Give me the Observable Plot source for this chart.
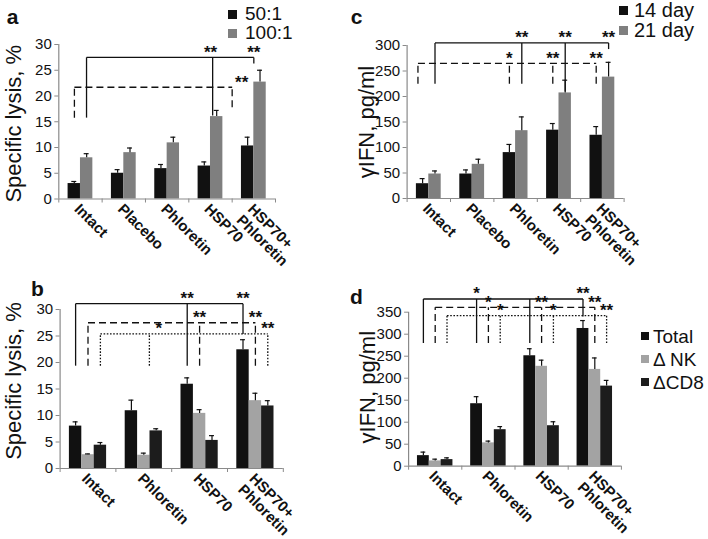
<!DOCTYPE html>
<html><head><meta charset="utf-8">
<script src="https://cdn.jsdelivr.net/npm/d3@7"></script>
<script src="https://cdn.jsdelivr.net/npm/@observablehq/plot@0.6"></script>
<style>
html,body{margin:0;padding:0;background:#fff;overflow:hidden;}
#root{position:relative;width:708px;height:539px;overflow:hidden;background:#fff;font-family:"Liberation Sans",Arial,Helvetica,sans-serif;color:#111;}
.lg{position:absolute;white-space:nowrap;}
.lg .sw{position:absolute;}
.lg .tx{position:absolute;}
</style></head>
<body><div id="root"></div>
<script>
const FONT = '"Liberation Sans", Arial, Helvetica, sans-serif';

// ---------- Panel a : Specific lysis, effector:target ratio ----------
const catsA = ["Intact", "Placebo", "Phloretin", "HSP70", "HSP70+\nPhloretin"];
const seriesA = ["50:1", "100:1"];
const colorsA = ["#111111", "#7f7f7f"];
const a50 = [3, 5, 5.9, 6.4, 10.3];
const a50err = [0.4, 0.7, 0.8, 0.8, 1.7];
const a100 = [8, 9, 10.9, 16, 22.7];
const a100err = [0.8, 0.9, 1.1, 1.2, 2.3];
const ticksA = [0, 5, 10, 15, 20, 25, 30];
const bracketsA = [
  {style: "solid", level: 27.5, drops: [{x: 0.64, y: 15.8}, {x: 3.55, y: 16.2, s: "**", sx: 3.5}, {x: 4.5, y: 26.3, s: "**"}]},
  {style: "dashed", level: 21.7, drops: [{x: 0.36, y: 15.8}, {x: 4.0, y: 17.8, s: "**", sx: 4.22}]}
];

// ---------- Panel c : γIFN, 14 / 21 day ----------
const catsC = ["Intact", "Placebo", "Phloretin", "HSP70", "HSP70+\nPhloretin"];
const seriesC = ["14 day", "21 day"];
const colorsC = ["#111111", "#7f7f7f"];
const c14 = [29, 48, 90, 134, 124];
const c14err = [10, 8, 16, 13, 17];
const c21 = [48, 67, 133, 207, 238];
const c21err = [6, 10, 27, 25, 29];
const ticksC = [0, 50, 100, 150, 200, 250, 300];
const bracketsC = [
  {style: "solid", level: 305, drops: [{x: 0.643, y: 225}, {x: 2.643, y: 225, s: "**"}, {x: 3.643, y: 210, s: "**"}, {x: 4.643, y: 293, s: "**"}]},
  {style: "dashed", level: 265, drops: [{x: 0.25, y: 225}, {x: 2.357, y: 225, s: "*"}, {x: 3.357, y: 225, s: "**"}, {x: 4.357, y: 225, s: "**"}]}
];

// ---------- Panel b : Specific lysis, depletion ----------
const catsB = ["Intact", "Phloretin", "HSP70", "HSP70+\nPhloretin"];
const seriesB = ["Total", "\u0394 NK", "\u0394CD8"];
const colorsB = ["#111111", "#a3a3a3", "#1c1c1c"];
const bTotal = [8, 10.9, 15.9, 22.4];
const bTotalErr = [0.8, 2.0, 1.2, 1.9];
const bNK = [2.6, 2.5, 10.4, 12.8];
const bNKErr = [0.15, 0.4, 0.7, 1.4];
const bCD8 = [4.4, 7.1, 5.3, 11.8];
const bCD8Err = [0.5, 0.4, 0.9, 1.0];
const ticksB = [0, 5, 10, 15, 20, 25, 30];
const bracketsB = [
  {style: "solid", level: 31.1, drops: [{x: 0.278, y: 19.4}, {x: 2.278, y: 19.4, s: "**"}, {x: 3.278, y: 25.4, s: "**"}]},
  {style: "dashed", level: 27.5, drops: [{x: 0.5, y: 19.4}, {x: 2.5, y: 19.4, s: "**"}, {x: 3.5, y: 19.4, s: "**"}]},
  {style: "dotted", level: 25.4, drops: [{x: 0.722, y: 19.4}, {x: 1.6, y: 19.4, s: "*", sx: 1.77}, {x: 3.722, y: 19.4, s: "**"}]}
];

// ---------- Panel d : γIFN, depletion ----------
const catsD = ["Intact", "Phloretin", "HSP70", "HSP70+\nPhloretin"];
const seriesD = ["Total", "\u0394 NK", "\u0394CD8"];
const colorsD = ["#111111", "#a3a3a3", "#1c1c1c"];
const dTotal = [24, 142, 251, 313];
const dTotalErr = [8, 16, 16, 18];
const dNK = [12, 53, 227, 220];
const dNKErr = [4, 4, 14, 26];
const dCD8 = [15, 83, 92, 182];
const dCD8Err = [4, 7, 9, 13];
const ticksD = [0, 50, 100, 150, 200, 250, 300, 350];
const bracketsD = [
  {style: "solid", level: 380, drops: [{x: 0.278, y: 280}, {x: 1.278, y: 280, s: "*"}, {x: 2.278, y: 280}, {x: 3.278, y: 340, s: "**"}]},
  {style: "dashed", level: 361, drops: [{x: 0.5, y: 280}, {x: 1.5, y: 280, s: "*"}, {x: 2.5, y: 280, s: "**"}, {x: 3.5, y: 280, s: "**"}]},
  {style: "dotted", level: 342, drops: [{x: 0.722, y: 280}, {x: 1.722, y: 280, s: "*"}, {x: 2.722, y: 280, s: "*"}, {x: 3.722, y: 280, s: "**"}]}
];

const W = 708, H = 539;
const root = document.getElementById("root");

function panel(cfg) {
  const [L, R, T, B] = cfg.frame;
  const n = cfg.cats.length, m = cfg.series.length;
  const bw = 1 / (m + 1.5);
  const rows = [];
  cfg.series.forEach((s, j) => cfg.values[j].forEach((v, i) => rows.push({
    i, j, s, v, e: cfg.errs[j][i],
    x1: i + (0.75 + j) * bw, x2: i + (1.75 + j) * bw, xc: i + (1.25 + j) * bw
  })));
  const segs = [], stars = [];
  cfg.brackets.forEach(b => {
    const xs = b.drops.map(d => d.x);
    segs.push({style: b.style, x1: d3.min(xs), x2: d3.max(xs), y1: b.level, y2: b.level});
    b.drops.forEach(d => {
      segs.push({style: b.style, x1: d.x, x2: d.x, y1: d.y, y2: b.level});
      if (d.s) stars.push({x: d.sx ?? d.x, y: b.level, t: d.s});
    });
  });
  const dash = {solid: null, dashed: "7,4", dotted: "1.6,1.6"};
  const ymax = cfg.ticks[cfg.ticks.length - 1];
  const axisColor = "#8a8a8a";
  const svg = Plot.plot({
    width: W, height: H,
    marginLeft: L, marginRight: W - R, marginTop: T, marginBottom: H - B,
    x: {domain: [0, n], axis: null},
    y: {domain: [0, ymax], axis: null},
    style: {fontFamily: FONT, background: "transparent", overflow: "visible", color: "#111"},
    marks: [
      Plot.rectY(rows, {x1: "x1", x2: "x2", y1: 0, y2: "v", fill: d => cfg.colors[d.j], inset: 0}),
      Plot.ruleX(rows, {x: "xc", y1: "v", y2: d => d.v + d.e, stroke: "#111", strokeWidth: 1.2}),
      Plot.ruleY(rows, {y: d => d.v + d.e, x1: d => d.xc - bw * 0.2, x2: d => d.xc + bw * 0.2, stroke: "#111", strokeWidth: 1.2}),
      Plot.ruleY([0], {x1: 0, x2: n, stroke: axisColor, strokeWidth: 1.2}),
      Plot.ruleX([0], {y1: 0, y2: ymax, stroke: axisColor, strokeWidth: 1.2}),
      Plot.axisY(cfg.ticks, {anchor: "left", tickSize: 4, tickPadding: 3, stroke: axisColor, fill: "#111", fontSize: 15, label: null}),
      Plot.axisX(d3.range(n + 1), {anchor: "bottom", tickSize: 4, stroke: axisColor, tickFormat: () => "", label: null}),
      Plot.text(cfg.cats, {x: (d, i) => i + 0.5, y: 0, text: d => d, rotate: 45, textAnchor: "start", lineAnchor: "top",
        dx: 1, dy: 3, fontWeight: "bold", fontSize: 15, lineHeight: 1.05, fill: "#111"}),
      ...["solid", "dashed", "dotted"].map(st => Plot.link(segs.filter(s => s.style === st),
        {x1: "x1", y1: "y1", x2: "x2", y2: "y2", stroke: "#111", strokeWidth: 1.3, strokeDasharray: dash[st]})),
      Plot.text(stars, {x: "x", y: "y", text: "t", dy: -5, fontWeight: "bold", fontSize: 17, fill: "#111"}),
      Plot.text([cfg.ylabel], {frameAnchor: "left", rotate: -90, textAnchor: "middle", lineAnchor: "middle",
        dx: cfg.ylab[0], dy: cfg.ylab[1], fontSize: cfg.ylabSize, fill: "#111"}),
      Plot.text([cfg.letter], {frameAnchor: "top-left", textAnchor: "middle", lineAnchor: "middle",
        dx: cfg.letterPos[0] - L, dy: cfg.letterPos[1] - T, fontSize: 21, fontWeight: "bold", fill: "#111"})
    ]
  });
  svg.style.position = "absolute";
  svg.style.left = "0px";
  svg.style.top = "0px";
  root.appendChild(svg);
}

function legend(series, colors, sx, tx, top, rowH, fs, sz) {
  const div = document.createElement("div");
  div.className = "lg";
  div.style.left = "0px"; div.style.top = "0px";
  series.forEach((s, i) => {
    const cy = top + rowH * i;
    const sw = document.createElement("div");
    sw.className = "sw";
    Object.assign(sw.style, {left: sx + "px", top: (cy - sz / 2) + "px", width: sz + "px", height: sz + "px", background: colors[i]});
    const t = document.createElement("div");
    t.className = "tx";
    t.textContent = s;
    const lh = Math.min(fs, rowH - 1);
    Object.assign(t.style, {left: tx + "px", top: (cy - lh / 2 + (fs - lh) * 0.0) + "px", fontSize: fs + "px", lineHeight: lh + "px"});
    div.appendChild(sw); div.appendChild(t);
  });
  root.appendChild(div);
}

panel({frame: [58.3, 275, 44, 198.5], cats: catsA, series: seriesA, colors: colorsA,
  values: [a50, a100], errs: [a50err, a100err], ticks: ticksA, brackets: bracketsA,
  ylabel: "Specific lysis, %", ylab: [-45, 2], ylabSize: 22, letter: "a", letterPos: [12, 17]});
panel({frame: [406.6, 623.6, 45, 198], cats: catsC, series: seriesC, colors: colorsC,
  values: [c14, c21], errs: [c14err, c21err], ticks: ticksC, brackets: bracketsC,
  ylabel: "\u03b3IFN, pg/ml", ylab: [-40, 0], ylabSize: 22, letter: "c", letterPos: [356, 17]});
panel({frame: [59.6, 282.8, 309, 468], cats: catsB, series: seriesB, colors: colorsB,
  values: [bTotal, bNK, bCD8], errs: [bTotalErr, bNKErr, bCD8Err], ticks: ticksB, brackets: bracketsB,
  ylabel: "Specific lysis, %", ylab: [-46, -8], ylabSize: 22, letter: "b", letterPos: [37, 289]});
panel({frame: [408.1, 620.9, 311.7, 465.7], cats: catsD, series: seriesD, colors: colorsD,
  values: [dTotal, dNK, dCD8], errs: [dTotalErr, dNKErr, dCD8Err], ticks: ticksD, brackets: bracketsD,
  ylabel: "\u03b3IFN, pg/ml", ylab: [-41, -2], ylabSize: 22, letter: "d", letterPos: [356, 297]});

legend(seriesA, colorsA, 228, 245, 14, 19, 19, 9);
legend(seriesC, colorsC, 619, 634, 10, 20, 20, 9);
legend(seriesD, colorsD, 641, 653, 336, 23, 19, 8);
</script>
</body></html>
